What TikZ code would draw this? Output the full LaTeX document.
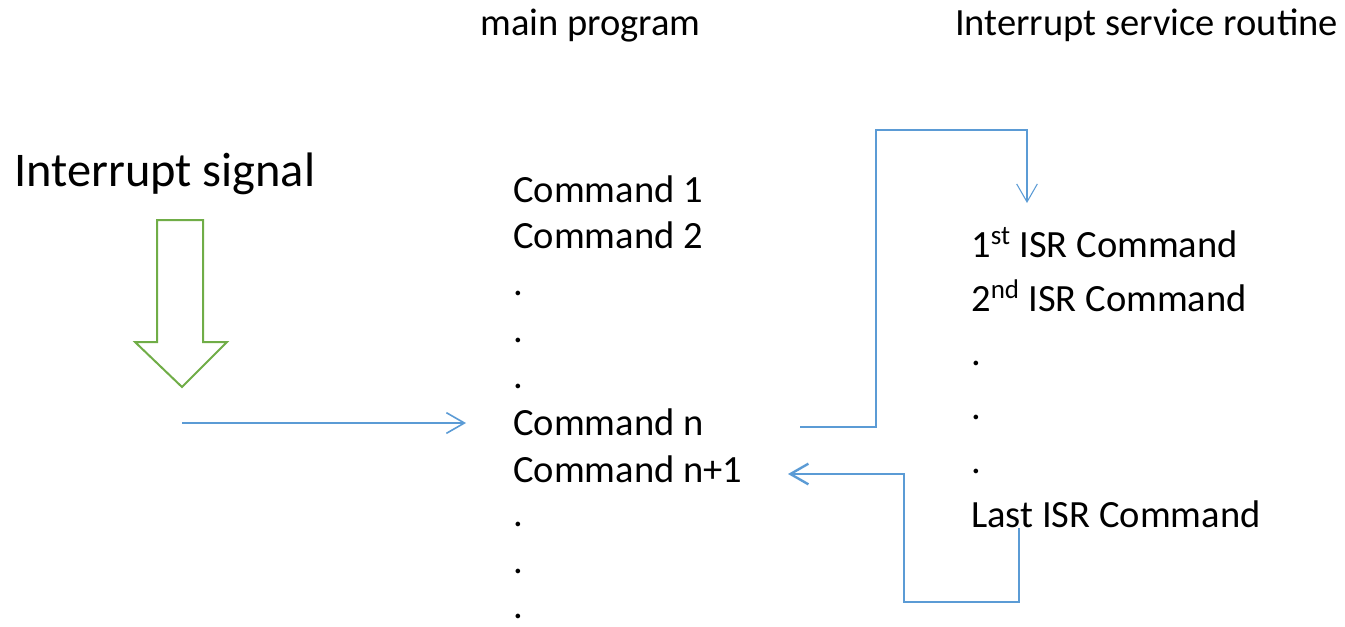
\documentclass[tikz,border=0pt]{standalone}
\usepackage{fontspec}
\setmainfont{Carlito}
\usepackage{xcolor}
\usetikzlibrary{arrows.meta}
\definecolor{signal-green}{HTML}{70AD47}
\definecolor{flow-blue}{HTML}{5B9BD5}
\tikzset{
    code-line/.style = {anchor=base west, inner sep=0pt, font=\fontsize{28.9}{34}\selectfont},
    signal-label/.style = {anchor=base west, inner sep=0pt, font=\fontsize{36.3}{42}\selectfont},
    flow-arrow/.style = {draw=flow-blue, -{Straight Barb[length=13.5pt, width=15.5pt]}},
    signal-arrow/.style = {draw=signal-green, line width=1.5pt, fill=white, line join=miter},
}

\begin{document}
\begin{tikzpicture}[x=0.75pt, y=-0.75pt]
\useasboundingbox (0,0) rectangle (1345,626);

\node[code-line] (head-main) at (480,35) {main program};
\node[code-line] (head-isr) at (955,35) {Interrupt service routine};
\node[signal-label] (signal) at (14,186) {Interrupt signal};

\node[code-line] (cmd1) at (513,202) {Command 1};
\node[code-line] (cmd2) at (513,248) {Command 2};
\node[code-line] (dot-a1) at (513,295) {.};
\node[code-line] (dot-a2) at (513,342) {.};
\node[code-line] (dot-a3) at (513,388) {.};
\node[code-line] (cmdn) at (513,435) {Command n};
\node[code-line] (cmdn1) at (513,482) {Command n+1};
\node[code-line] (dot-b1) at (513,526) {.};
\node[code-line] (dot-b2) at (513,573) {.};
\node[code-line] (dot-b3) at (513,618) {.};

\node[code-line] (isr1) at (971,257) {1\textsuperscript{st} ISR Command};
\node[code-line] (isr2) at (971,311) {2\textsuperscript{nd} ISR Command};
\node[code-line] (dot-c1) at (971,365) {.};
\node[code-line] (dot-c2) at (971,419) {.};
\node[code-line] (dot-c3) at (971,473) {.};
\node[code-line] (isr-last) at (971,527) {Last ISR Command};

\draw[signal-arrow] (157,220) -- (203,220) -- (203,342) -- (227,342) -- (182,387) -- (135,342) -- (157,342) -- cycle;

\coordinate (sig-start) at (182,423);
\coordinate (sig-end) at (466,423);
\coordinate (call-out) at (800,427);
\coordinate (call-turn) at (876,130);
\coordinate (isr-in) at (1027,203);
\coordinate (ret-out) at (1019,528);
\coordinate (ret-turn) at (904,602);
\coordinate (ret-in) at (788,474);

\draw[flow-arrow, line width=1.2pt] (sig-start) -- (sig-end);
\draw[flow-arrow, line width=0.8pt] (call-out) -| (call-turn) -| (isr-in);
\draw[flow-arrow, line width=1.8pt] (ret-out) |- (ret-turn) |- (ret-in);
\end{tikzpicture}
\end{document}
